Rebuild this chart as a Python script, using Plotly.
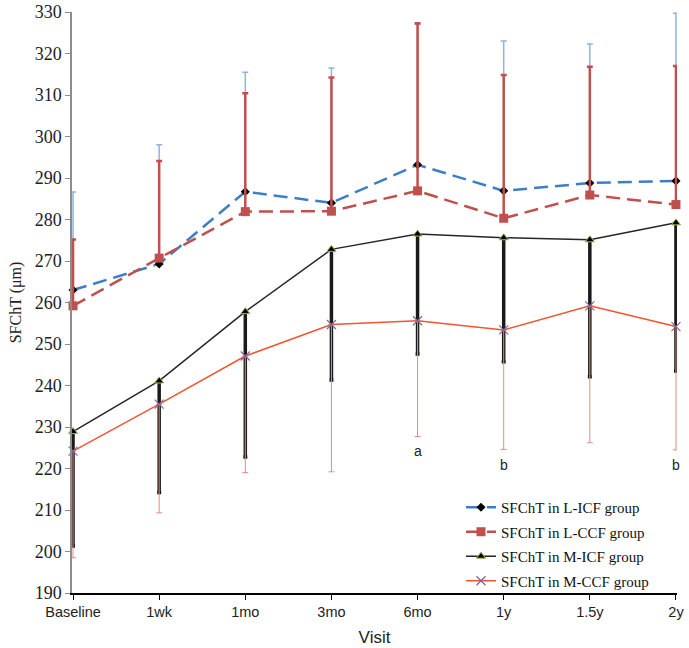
import plotly.graph_objects as go

visits = ["Baseline", "1wk", "1mo", "3mo", "6mo", "1y", "1.5y", "2y"]

# means
l_icf = [263.0, 269.3, 286.7, 284.0, 293.2, 286.9, 288.8, 289.3]
l_ccf = [259.2, 270.7, 281.9, 282.0, 286.9, 280.3, 285.9, 283.6]
m_icf = [228.9, 241.1, 257.8, 272.8, 276.5, 275.6, 275.1, 279.2]
m_ccf = [224.2, 235.5, 247.1, 254.7, 255.6, 253.4, 259.2, 254.2]

# error bar ends (upper for L groups, lower for M groups)
l_icf_top = [286.6, 298.0, 315.5, 316.5, 327.0, 323.0, 322.3, 329.7]
l_ccf_top = [275.2, 294.1, 310.4, 314.2, 327.3, 314.8, 316.8, 317.0]
m_icf_bot = [201.3, 214.2, 222.8, 241.3, 247.6, 245.7, 242.1, 243.5]
m_ccf_bot = [198.5, 209.3, 219.0, 219.2, 227.7, 224.6, 226.2, 224.5]

# significance marks
sig_text = ["a", "b", "b"]
sig_x = [4, 5, 7]
sig_y = [224.2, 220.8, 220.8]

x = list(range(len(visits)))
serif = "Liberation Serif"
sans = "Liberation Sans"

fig = go.Figure()

fig.add_trace(go.Scatter(
    x=x, y=l_icf, mode="lines+markers", name="SFChT in L-ICF group",
    line=dict(color="#3d7fc4", width=2.5, dash="14px,7px"),
    marker=dict(symbol="diamond", size=7, color="black"),
    error_y=dict(type="data", symmetric=False,
                 array=[t - m for t, m in zip(l_icf_top, l_icf)],
                 arrayminus=[0] * len(x),
                 color="#8fb3e0", thickness=1.5, width=3),
    cliponaxis=False, legendgroup="a"))

fig.add_trace(go.Scatter(
    x=x, y=l_ccf, mode="lines+markers", name="SFChT in L-CCF group",
    line=dict(color="#c0504d", width=2.5, dash="14px,7px"),
    marker=dict(symbol="square", size=9, color="#c0504d"),
    error_y=dict(type="data", symmetric=False,
                 array=[t - m for t, m in zip(l_ccf_top, l_ccf)],
                 arrayminus=[0] * len(x),
                 color="#c0504d", thickness=2.5, width=3),
    cliponaxis=False, legendgroup="b"))

fig.add_trace(go.Scatter(
    x=x, y=m_icf, mode="lines+markers", name="SFChT in M-ICF group",
    line=dict(color="#262626", width=1.5),
    marker=dict(symbol="triangle-up", size=8, color="black",
                line=dict(color="#9bbb59", width=1)),
    error_y=dict(type="data", symmetric=False,
                 array=[0] * len(x),
                 arrayminus=[m - b for m, b in zip(m_icf, m_icf_bot)],
                 color="#1a1a1a", thickness=3.5, width=2),
    cliponaxis=False, legendgroup="c"))

fig.add_trace(go.Scatter(
    x=x, y=m_ccf, mode="lines+markers", name="SFChT in M-CCF group",
    line=dict(color="#f2552f", width=1.5),
    marker=dict(symbol="x-thin", size=9, color="#8064a2",
                line=dict(color="#8064a2", width=1.2)),
    error_y=dict(type="data", symmetric=False,
                 array=[0] * len(x),
                 arrayminus=[m - b for m, b in zip(m_ccf, m_ccf_bot)],
                 color="#e48a88", thickness=1, width=3),
    cliponaxis=False, legendgroup="d"))

for t, xx, yy in zip(sig_text, sig_x, sig_y):
    fig.add_annotation(x=xx, y=yy, text=t, showarrow=False,
                       font=dict(family=sans, size=14, color="#222"))

fig.update_xaxes(
    range=[-0.012, 7.012], tickvals=x, ticktext=visits,
    showline=True, linecolor="black", linewidth=1.5,
    ticks="outside", ticklen=5, tickcolor="black",
    showgrid=False, zeroline=False, automargin=False,
    tickfont=dict(family=sans, size=14.5, color="#222"),
    title=dict(text="Visit", font=dict(family=sans, size=17, color="#222"),
               standoff=12))

fig.update_yaxes(
    range=[190, 330], dtick=10,
    showline=True, linecolor="#8c8c8c", linewidth=1.5,
    ticks="outside", ticklen=5, tickcolor="#8c8c8c",
    showgrid=False, zeroline=False, automargin=False,
    tickfont=dict(family=serif, size=18, color="#222"),
    title=dict(text="SFChT (μm)", font=dict(family=serif, size=16, color="#222"),
               standoff=9))

fig.update_layout(
    width=689, height=648,
    margin=dict(l=72, r=12, t=12, b=55),
    plot_bgcolor="white", paper_bgcolor="white",
    legend=dict(x=0.643, y=0.1756, xanchor="left", yanchor="top",
                font=dict(family=serif, size=15, color="#111"),
                bgcolor="rgba(0,0,0,0)", tracegroupgap=2,
                itemwidth=30),
    showlegend=True,
)

# drop the default page margin so the figure sits at the window corner
fig.write_html("out.html", config={"displayModeBar": False},
               post_script="document.body.style.margin='0';")
